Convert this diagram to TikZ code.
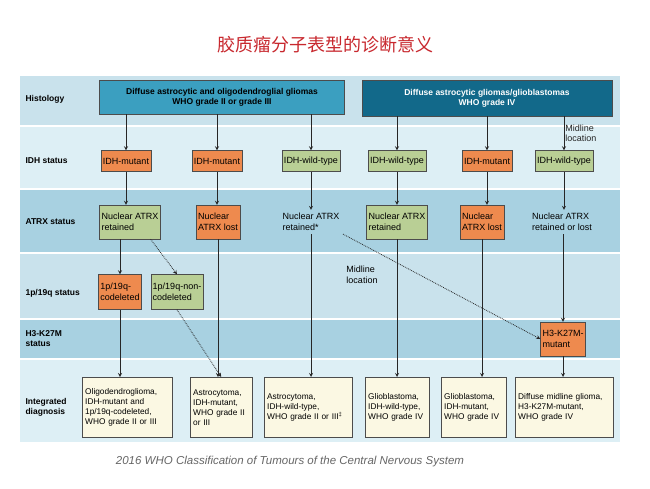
\documentclass[tikz,border=0pt]{standalone}
\usepackage{fontspec}
\setmainfont{Liberation Sans}
\newfontfamily\cjk{Noto Sans CJK SC}
\usetikzlibrary{arrows,positioning}
\definecolor{bandA}{HTML}{C9E2EC}
\definecolor{bandB}{HTML}{DDEFF5}
\definecolor{bandC}{HTML}{A8D1E1}
\definecolor{orangebox}{HTML}{EE8A4E}
\definecolor{greenbox}{HTML}{B9CF95}
\definecolor{yellowbox}{HTML}{FBF8E3}
\definecolor{toplight}{HTML}{3B9FC0}
\definecolor{topdark}{HTML}{12698A}
\definecolor{titlered}{HTML}{C8282E}
\begin{document}
\begin{tikzpicture}[x=1pt,y=-1pt,font=\fontsize{9}{10.5}\selectfont]
\tikzstyle{box}=[draw=black!70, align=left, inner sep=2pt, font=\fontsize{9}{10.5}\selectfont]
\tikzstyle{mut}=[box, fill=orangebox]
\tikzstyle{wild}=[box, fill=greenbox]
\tikzstyle{idh}=[minimum height=21pt]
\tikzstyle{diag}=[box, fill=yellowbox, minimum height=60pt, anchor=north west, inner sep=3pt, font=\fontsize{8.3}{10}\selectfont]
\tikzstyle{rowlabel}=[anchor=west, align=left, font=\bfseries\fontsize{8.5}{10}\selectfont]
\tikzstyle{flow}=[->, >=stealth, thick, black!85]
\tikzstyle{dots}=[->, >=stealth, thick, densely dotted, black!85]

\useasboundingbox (0,0) rectangle (650,488);
\fill[white] (0,0) rectangle (650,488);
\node[font=\cjk\fontsize{18}{20}\selectfont, text=titlered] (title) at (325,45) {胶质瘤分子表型的诊断意义};

% bands
\fill[bandA] (20,76) rectangle (620,125);
\fill[bandB] (20,127) rectangle (620,188);
\fill[bandC] (20,190) rectangle (620,252);
\fill[bandA] (20,254) rectangle (620,318);
\fill[bandC] (20,320) rectangle (620,358);
\fill[bandB] (20,360) rectangle (620,442);

\node[rowlabel] (lhist) at (22,99) {Histology};
\node[rowlabel] (lidh) at (22,161) {IDH status};
\node[rowlabel] (latrx) at (22,222) {ATRX status};
\node[rowlabel] (lpq) at (22,293) {1p/19q status};
\node[rowlabel] (lh3) at (22,339) {H3-K27M\\status};
\node[rowlabel] (lint) at (22,407) {Integrated\\diagnosis};

\node[draw=black!70, fill=toplight, minimum width=245pt, minimum height=34pt, align=center, font=\bfseries\fontsize{8.5}{10}\selectfont] (hlow) at (222,97) {Diffuse astrocytic and oligodendroglial gliomas\\WHO grade II or grade III};
\node[draw=black!70, fill=topdark, text=white, minimum width=250pt, minimum height=36pt, align=center, font=\bfseries\fontsize{8.5}{10}\selectfont] (hhigh) at (487,98) {Diffuse astrocytic gliomas/glioblastomas\\WHO grade IV};

% IDH row
\node[mut, idh] (i1) at (126,161) {IDH-mutant};
\node[mut, idh] (i2) at (217,161) {IDH-mutant};
\node[wild, idh] (i3) at (311,161) {IDH-wild-type};
\node[wild, idh] (i4) at (397,161) {IDH-wild-type};
\node[mut, idh] (i5) at (487,161) {IDH-mutant};
\node[wild, idh] (i6) at (564,161) {IDH-wild-type};

% ATRX row
\node[wild, minimum height=34pt] (a1) at (130,222) {Nuclear ATRX\\retained};
\node[mut, minimum height=34pt] (a2) at (218,222) {Nuclear\\ATRX lost};
\node[align=left] (a3) at (311,222) {Nuclear ATRX\\retained*};
\node[wild, minimum height=34pt] (a4) at (397,222) {Nuclear ATRX\\retained};
\node[mut, minimum height=34pt] (a5) at (482,222) {Nuclear\\ATRX lost};
\node[align=left] (a6) at (562,222) {Nuclear ATRX\\retained or lost};

% 1p/19q row
\node[mut, minimum height=35pt] (p1) at (120,292) {1p/19q-\\codeleted};
\node[wild, minimum height=35pt] (p2) at (177,292) {1p/19q-non-\\codeleted};

% H3 row
\node[mut, minimum height=34pt] (h6) at (563,339) {H3-K27M-\\mutant};

% integrated diagnosis
\node[diag, text width=84pt] (d1) at (82,377) {Oligodendroglioma,\\IDH-mutant and\\1p/19q-codeleted,\\WHO grade II or III};
\node[diag, text width=56pt] (d2) at (190,377) {Astrocytoma,\\IDH-mutant,\\WHO grade II\\or III};
\node[diag, text width=82pt] (d3) at (264,377) {Astrocytoma,\\IDH-wild-type,\\WHO grade II or III\textsuperscript{\ddag}};
\node[diag, text width=58pt] (d4) at (365,377) {Glioblastoma,\\IDH-wild-type,\\WHO grade IV};
\node[diag, text width=59pt] (d5) at (441,377) {Glioblastoma,\\IDH-mutant,\\WHO grade IV};
\node[diag, text width=92pt] (d6) at (515,377) {Diffuse midline glioma,\\H3-K27M-mutant,\\WHO grade IV};

% connectors
\draw[flow] (hlow.south -| i1) -- (i1);
\draw[flow] (hlow.south -| i2) -- (i2);
\draw[flow] (hlow.south -| i3) -- (i3);
\draw[flow] (hhigh.south -| i4) -- (i4);
\draw[flow] (hhigh.south -| i5) -- (i5);
\draw[flow] (hhigh.south -| i6) -- node[right, align=left, inner sep=1pt] (mid1) {Midline\\location} (i6);
\draw[flow] (i1) -- (i1 |- a1.north);
\draw[flow] (i2) -- (i2 |- a2.north);
\draw[flow] (i3) -- (i3 |- a3.north);
\draw[flow] (i4) -- (a4);
\draw[flow] (i5.south) -- (i5 |- a5.north);
\draw[flow] (i6.south) -- (i6 |- a6.north);
\draw[flow] (a1.south -| p1) -- (p1);
\draw[dots] (a1.south east) ++(-10,0) coordinate (a1d) -- (p2.north);
\draw[flow] (p1) -- (p1 |- d1.north);
\draw[dots] (p2.south) -- (d2.north);
\draw[flow] (a2.south) -- (a2 |- d2.north);
\draw[flow] (a3.south) -- (a3 |- d3.north);
\draw[flow] (a4.south) -- (a4 |- d4.north);
\draw[flow] (a5.south) -- (a5 |- d5.north);
\draw[flow] (a6.south -| h6) -- (h6);
\draw[flow] (h6) -- (h6 |- d6.north);
\draw[dots] (a3.south east) -- (h6.west);
\node[align=left] (mid2) at (362,275) {Midline\\location};

\node[font=\itshape\fontsize{11.5}{13}\selectfont, text=black!60] (foot) at (290,462) {2016 WHO Classification of Tumours of the Central Nervous System};
\end{tikzpicture}
\end{document}
